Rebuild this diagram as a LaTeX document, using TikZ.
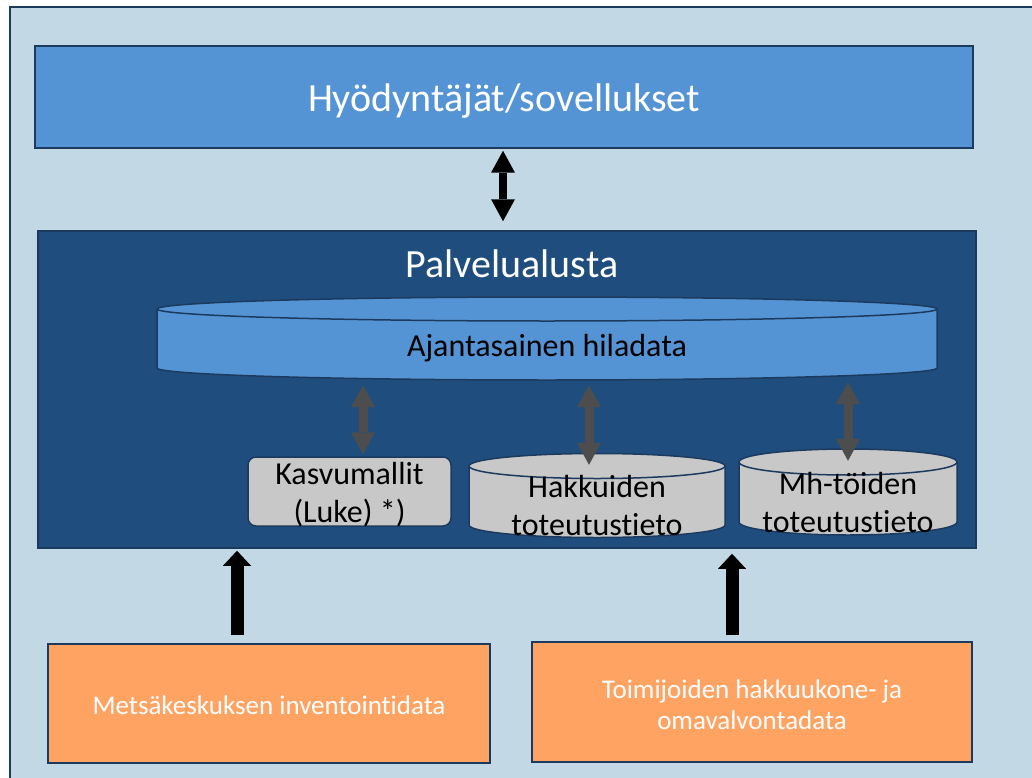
\documentclass[tikz,border=0pt]{standalone}
\usepackage{fontspec}
\setmainfont{Carlito}[Ligatures=NoCommon]
\usepackage{xcolor}
\usetikzlibrary{arrows.meta,positioning}

\definecolor{bgblue}{HTML}{C2D9E5}
\definecolor{midblue}{HTML}{5594D4}
\definecolor{darkblue}{HTML}{1F4E7E}
\definecolor{edgeblue}{HTML}{1B3A5E}
\definecolor{cylgray}{HTML}{C8C8C8}
\definecolor{arrgray}{HTML}{4D4D4D}
\definecolor{srcorange}{HTML}{FFA363}

\newcommand\lblbig{\fontsize{40}{48}\selectfont}
\newcommand\lblmid{\fontsize{32}{38.5}\selectfont}
\newcommand\lblsmall{\fontsize{27}{31}\selectfont}

\begin{document}
\begin{tikzpicture}[x=1pt, y=-1pt]
\tikzstyle{box}=[draw=edgeblue, line width=1.5pt, inner sep=0pt, align=center]
\tikzstyle{hull}=[inner sep=0pt]
\tikzstyle{txt}=[inner sep=0pt, align=center]
\tikzstyle{link}=[line width=8pt, <->, >={Triangle[width=24pt, length=22pt, line width=0pt]}]
\tikzstyle{feed}=[line width=9pt, arrgray, <->, >={Triangle[width=24pt, length=22pt, line width=0pt]}]
\tikzstyle{src}=[line width=13pt, ->, >={Triangle[width=28pt, length=15pt, line width=0pt]}]

\useasboundingbox (0,0) rectangle (1032,778);
\clip (0,0) rectangle (1032,778);
\draw[fill=bgblue, draw=edgeblue, line width=2pt] (10,7) rectangle (1050,800);

% top and platform
\node[box, fill=midblue, text=white, font=\lblbig, text height=30pt, text depth=0pt, minimum width=938pt, minimum height=102pt] (hyod) at (504,97) {Hyödyntäjät/sovellukset};
\node[box, fill=darkblue, minimum width=938pt, minimum height=317pt] (palv) at (507,389.5) {};
\node[txt, text=white, font=\lblbig, anchor=base] (palvtxt) at (512,277) {Palvelualusta};

% cylinders
\foreach \cx/\rx/\ct/\cb/\ry/\col in {547/390/309/368/12/midblue, 597/128/466/525/12.5/cylgray, 848/109/462/522/13/cylgray}{
  \draw[draw=edgeblue, line width=1.5pt, fill=\col] (\cx-\rx,\ct) -- (\cx-\rx,\cb) arc[start angle=180, end angle=0, x radius=\rx, y radius=\ry] -- (\cx+\rx,\ct) arc[start angle=0, end angle=-180, x radius=\rx, y radius=\ry] -- cycle;
  \draw[draw=edgeblue, line width=1.5pt] (\cx-\rx,\ct) arc[start angle=180, end angle=0, x radius=\rx, y radius=\ry];
}
\node[hull, minimum width=780pt, minimum height=83pt] (ajan) at (547,338.5) {};
\node[txt, font=\lblmid, anchor=base] (ajantxt) at (547,356) {Ajantasainen hiladata};
\node[hull, minimum width=256pt, minimum height=85pt] (hakk) at (597,495.5) {};
\node[txt, font=\lblmid] (hakktxt) at (597,505.5) {Hakkuiden\\toteutustieto};
\node[hull, minimum width=218pt, minimum height=86pt] (mh) at (848,492) {};
\node[txt, font=\lblmid] (mhtxt) at (848,502.5) {Mh-töiden\\toteutustieto};

\node[box, fill=cylgray, rounded corners=8pt, minimum width=203pt, minimum height=69pt] (kasv) at (349.5,491.5) {};
\node[txt, font=\lblmid] (kasvtxt) at (349.5,494.5) {Kasvumallit\\(Luke) *)};

% sources
\node[box, fill=srcorange, text=white, font=\lblsmall, text height=21pt, text depth=0pt, minimum width=442pt, minimum height=119pt] (metsa) at (269,703.5) {Metsäkeskuksen inventointidata};
\node[box, fill=srcorange, minimum width=440pt, minimum height=120pt] (toimi) at (752,702) {};
\node[txt, text=white, font=\lblsmall] (toimitxt) at (752,705) {Toimijoiden hakkuukone- ja\\omavalvontadata};

% arrows
\draw[link, shorten <=2pt, shorten >=9pt] ([xshift=-1pt]hyod.south) -- ([xshift=-4pt]palv.north);
\draw[feed, shorten <=5pt, shorten >=2pt] ([xshift=-184pt]ajan.south) -- ([xshift=13.5pt]kasv.north);
\draw[feed, shorten <=5pt] ([xshift=42pt]ajan.south) -- ([xshift=-8pt, yshift=-12pt]hakk.north);
\draw[feed, shorten <=2pt] ([xshift=301pt]ajan.south) -- ([yshift=-12pt]mh.north);
\draw[src, shorten <=8pt, shorten >=2pt] ([xshift=-32pt]metsa.north) -- ([xshift=-270pt]palv.south);
\draw[src, shorten <=6pt, shorten >=5pt] ([xshift=-20pt]toimi.north) -- ([xshift=225pt]palv.south);
\end{tikzpicture}
\end{document}
